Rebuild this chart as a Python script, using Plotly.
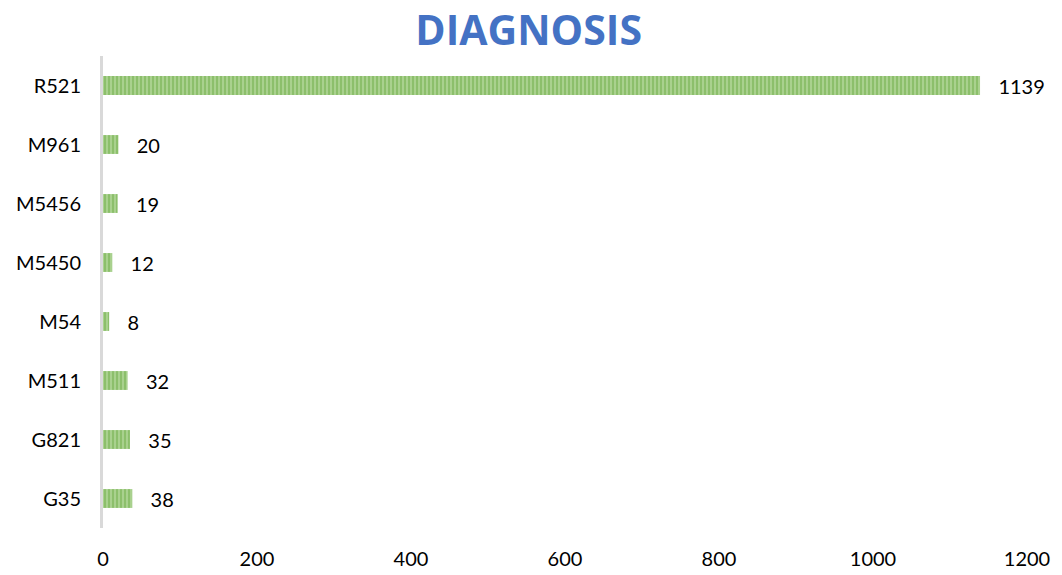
import plotly.graph_objects as go

categories = ["G35", "G821", "M511", "M54", "M5450", "M5456", "M961", "R521"]
values = [38, 35, 32, 8, 12, 19, 20, 1139]
x_ticks = [0, 200, 400, 600, 800, 1000, 1200]

fig = go.Figure()
fig.add_trace(go.Bar(
    y=categories, x=values, orientation="h",
    marker=dict(color="#A9D18E", line=dict(width=0),
                pattern=dict(shape="|", fgcolor="#70AD47", size=4, solidity=0.5)),
    texttemplate="   %{x}", textposition="outside", cliponaxis=False,
    constraintext="none",
    textfont=dict(size=20, color="#000000", family="Lato, Open Sans, sans-serif"),
    width=0.32,
))
fig.update_layout(
    width=1054, height=567,
    margin=dict(l=95, r=35, t=48, b=47, autoexpand=False),
    paper_bgcolor="white", plot_bgcolor="white",
    title=dict(text="<b>DIAGNOSIS</b>", x=0.494, xanchor="center", y=0.985, yanchor="top",
               font=dict(size=41, color="#4472C4", family="Open Sans, Lato, sans-serif")),
    showlegend=False,
    font=dict(family="Lato, Open Sans, sans-serif", size=20, color="#000000"),
)
fig.update_xaxes(range=[0, 1200], tickvals=x_ticks, showgrid=False, zeroline=False,
                 showline=False, ticks="", ticklabelstandoff=17, automargin=False)
fig.update_yaxes(categoryorder="array", categoryarray=categories, showgrid=False,
                 showline=True, linecolor="#D9D9D9", linewidth=3, ticks="",
                 ticklabelstandoff=15, zeroline=False, automargin=False)
fig.write_html("out.html")
